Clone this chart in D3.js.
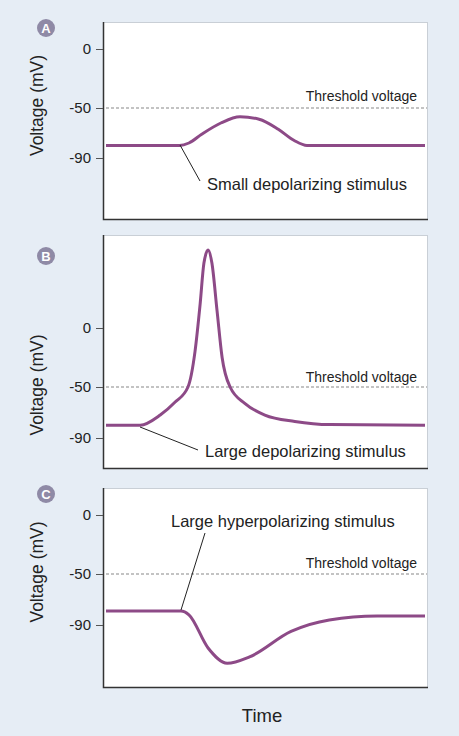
<!DOCTYPE html><html><head><meta charset="utf-8"><script src="https://d3js.org/d3.v7.min.js"></script>
<style>body{margin:0;background:#e6edf5}text{font-family:"Liberation Sans",Arial,sans-serif}</style></head><body><svg id="c" width="459" height="736"></svg>
<script>
const panelIds=["A","B","C"];
const tickValues=[0,-50,-90];
const thresholdV=-50;
const timeA=[0,23,26,30,36,42,48,54,59,63,100];
const voltA=[-80,-80,-78,-71,-62,-57,-59,-67,-76,-80,-80];
const timeB=[0,10.7,17,21.6,25.7,27.9,29.5,30.7,32,33.2,34.8,36.4,38.9,43.6,49.8,59.2,70.2,100];
const voltB=[-80,-80,-72,-62,-50,-20,20,55,66,55,15,-25,-50,-63,-72,-77,-79.5,-80];
const timeC=[0,23.5,26,32,38,45,58,70,85,100];
const voltC=[-79,-79,-82,-108,-120,-115,-95,-86,-83,-83];
const labels=["Small depolarizing stimulus","Large depolarizing stimulus","Large hyperpolarizing stimulus"];
const panels=[
 {t:timeA,v:voltA,top:22,bot:219,y0:49,y50:108,y90:158,callout:[[180,145],[200,181]],lab:[207,190],thr:101,cy:28},
 {t:timeB,v:voltB,top:235,bot:468,y0:328,y50:387,y90:438,callout:[[140,427],[198,450]],lab:[205,457],thr:382,cy:256},
 {t:timeC,v:voltC,top:488,bot:687,y0:515,y50:574,y90:625,callout:[[181,610],[205,533]],lab:[171,527],thr:568,cy:494}
];
const svg=d3.select("#c");
const x=d3.scaleLinear().domain([0,100]).range([106,425]);
panels.forEach((p,i)=>{
 const y=d3.scaleLinear().domain([-90,-50,0]).range([p.y90,p.y50,p.y0]);
 svg.append("rect").attr("x",103.5).attr("y",p.top+0.5).attr("width",324).attr("height",p.bot-p.top).attr("fill","#fff").attr("stroke","#c9cfd6").attr("stroke-width",1);
 svg.append("path").attr("d",`M103.5,${p.top}V${p.bot+0.5}H428`).attr("stroke","#333").attr("fill","none").attr("stroke-width",1.5);
 const ax=svg.append("g").attr("transform","translate(103,0)").call(d3.axisLeft(y).tickValues(tickValues).tickSize(7).tickFormat(d=>d));
 ax.select(".domain").remove();
 ax.selectAll("line").attr("stroke","#555");
 ax.selectAll("text").attr("font-size",15).attr("fill","#222").attr("x",-12);
 svg.append("line").attr("x1",106).attr("x2",427).attr("y1",y(thresholdV)).attr("y2",y(thresholdV)).attr("stroke","#888").attr("stroke-dasharray","3,2").attr("stroke-width",1.2);
 svg.append("text").attr("x",417).attr("y",p.thr).attr("text-anchor","end").attr("font-size",14).attr("fill","#222").text("Threshold voltage");
 const data=p.t.map((t,j)=>[t,p.v[j]]);
 svg.append("path").attr("d",d3.line().x(d=>x(d[0])).y(d=>y(d[1])).curve(d3.curveMonotoneX)(data)).attr("fill","none").attr("stroke","#8d4a87").attr("stroke-width",3);
 svg.append("line").attr("x1",p.callout[0][0]).attr("y1",p.callout[0][1]).attr("x2",p.callout[1][0]).attr("y2",p.callout[1][1]).attr("stroke","#222").attr("stroke-width",1);
 svg.append("text").attr("x",p.lab[0]).attr("y",p.lab[1]).attr("font-size",16.5).attr("fill","#222").text(labels[i]);
 svg.append("text").attr("transform",`translate(43,${(p.y0+p.y90)/2+2}) rotate(-90)`).attr("text-anchor","middle").attr("font-size",17.5).attr("fill","#222").text("Voltage (mV)");
 svg.append("circle").attr("cx",46).attr("cy",p.cy).attr("r",9).attr("fill","#8f8aa6");
 svg.append("text").attr("x",46).attr("y",p.cy+5).attr("text-anchor","middle").attr("font-size",13).attr("font-weight","bold").attr("fill","#fff").text(panelIds[i]);
});
svg.append("text").attr("x",262).attr("y",722).attr("text-anchor","middle").attr("font-size",18.5).attr("fill","#222").text("Time");
</script></body></html>
